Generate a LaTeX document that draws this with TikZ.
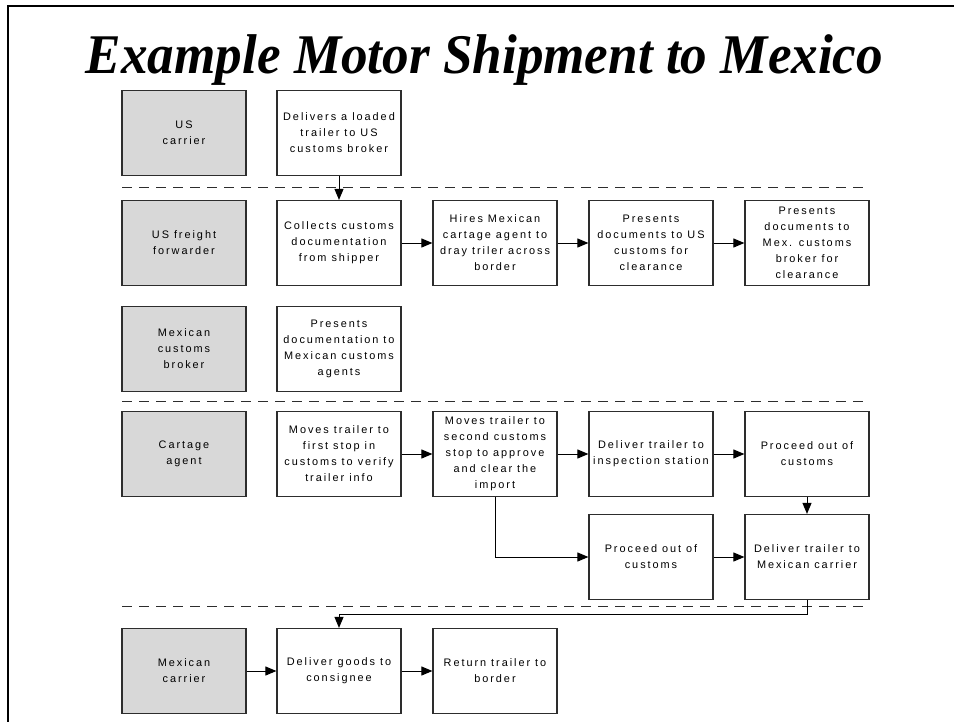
\documentclass[tikz,border=0pt]{standalone}
\usepackage{fontspec}
\setmainfont{Liberation Serif}
\newfontfamily\boxfont[LetterSpace=18]{Liberation Sans}
\usetikzlibrary{arrows.meta}
\definecolor{lanegray}{RGB}{216,216,216}
\definecolor{edgegray}{RGB}{45,45,45}
\tikzset{
  stepbox/.style={draw=edgegray, line width=1.2pt, minimum width=124pt, minimum height=85pt,
    inner sep=0pt, align=center, font=\boxfont\fontsize{10.9}{16}\selectfont, text=black},
  lanebox/.style={stepbox, fill=lanegray},
  conn/.style={line width=1pt, draw=black, -{Triangle[length=11pt,width=9pt]}},
  lanesep/.style={line width=1pt, dash pattern=on 10pt off 7pt, draw=edgegray},
  frameline/.style={line width=2.3pt, draw=black},
  titlefont/.style={font=\fontsize{56}{60}\selectfont\bfseries\itshape}
}
\begin{document}
\begin{tikzpicture}[x=1pt,y=-1pt]
\useasboundingbox (0,0) rectangle (954,721);
% frame
\coordinate (fa) at (8.3,722);
\coordinate (fb) at (8.3,6);
\coordinate (fc) at (955,6);
\draw[frameline] (fa) -- (fb) -- (fc);
% title
\node[titlefont, anchor=base, inner sep=0pt] (title) at (484.5,73) {\scalebox{0.949}[1]{Example Motor Shipment to Mexico}};
% lane separators
\coordinate (s1a) at (122,187); \coordinate (s1b) at (870,187);
\coordinate (s2a) at (122,401); \coordinate (s2b) at (870,401);
\coordinate (s3a) at (122,606); \coordinate (s3b) at (870,606);
\draw[lanesep] (s1a) -- (s1b);
\draw[lanesep] (s2a) -- (s2b);
\draw[lanesep] (s3a) -- (s3b);
% row 1
\node[lanebox] (usc) at (184,133) {US\\carrier};
\node[stepbox] (r1a) at (339,133) {Delivers a loaded\\trailer to US\\customs broker};
% row 2
\node[lanebox] (usf) at (184,243) {US freight\\forwarder};
\node[stepbox] (r2a) at (339,243) {Collects customs\\documentation\\from shipper};
\node[stepbox] (r2b) at (495,243) {Hires Mexican\\cartage agent to\\dray triler across\\border};
\node[stepbox] (r2c) at (651,243) {Presents\\documents to US\\customs for\\clearance};
\node[stepbox] (r2d) at (807,243) {Presents\\documents to\\Mex. customs\\broker for\\clearance};
% row 3
\node[lanebox] (mcb) at (184,349) {Mexican\\customs\\broker};
\node[stepbox] (r3a) at (339,349) {Presents\\documentation to\\Mexican customs\\agents};
% row 4
\node[lanebox] (cart) at (184,454) {Cartage\\agent};
\node[stepbox] (r4a) at (339,454) {Moves trailer to\\first stop in\\customs to verify\\trailer info};
\node[stepbox] (r4b) at (495,454) {Moves trailer to\\second customs\\stop to approve\\and clear the\\import};
\node[stepbox] (r4c) at (651,454) {Deliver trailer to\\inspection station};
\node[stepbox] (r4d) at (807,454) {Proceed out of\\customs};
% row 5
\node[stepbox] (r5a) at (651,557) {Proceed out of\\customs};
\node[stepbox] (r5b) at (807,557) {Deliver trailer to\\Mexican carrier};
% row 6
\node[lanebox] (mxc) at (184,671) {Mexican\\carrier};
\node[stepbox] (r6a) at (339,671) {Deliver goods to\\consignee};
\node[stepbox] (r6b) at (495,671) {Return trailer to\\border};
% connectors
\draw[conn] (r1a.south) -- (r2a.north);
\draw[conn] (r2a) -- (r2b);
\draw[conn] (r2b) -- (r2c);
\draw[conn] (r2c) -- (r2d);
\draw[conn] (r4a) -- (r4b);
\draw[conn] (r4b) -- (r4c);
\draw[conn] (r4c) -- (r4d);
\draw[conn] (r4d.south) -- (r5b.north);
\draw[conn] (r4b.south) |- (r5a.west);
\draw[conn] (r5a) -- (r5b);
\coordinate (bend) at (807,614);
\draw[conn] (r5b.south) -- (bend) -| (r6a.north);
\draw[conn] (mxc) -- (r6a);
\draw[conn] (r6a) -- (r6b);
\end{tikzpicture}
\end{document}
